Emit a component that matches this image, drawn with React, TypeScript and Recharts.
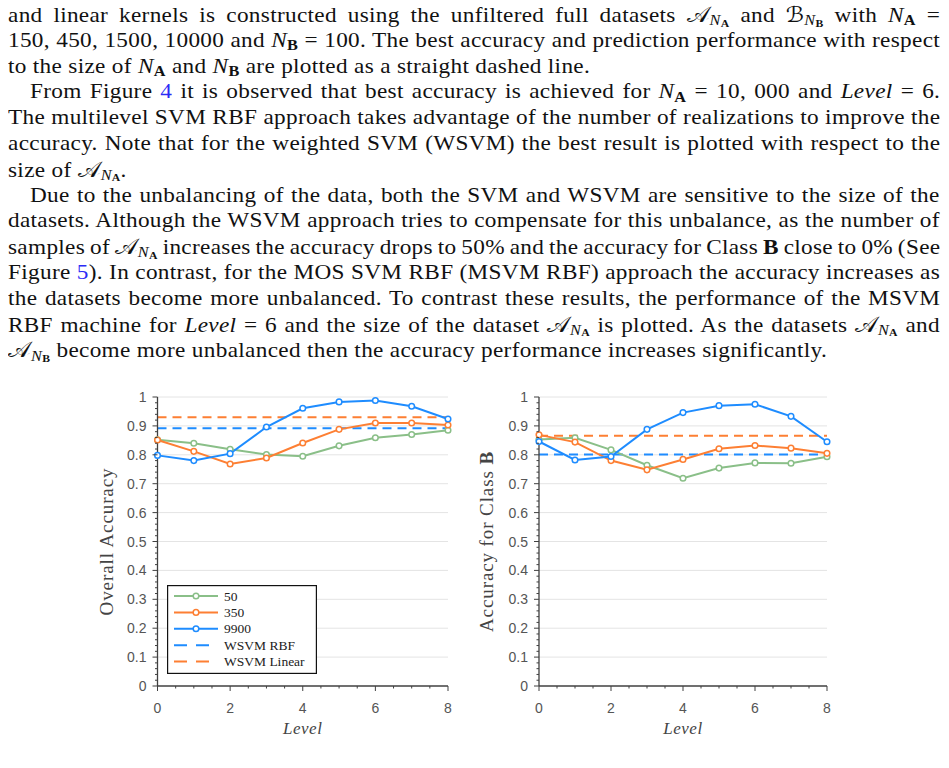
import React, { useLayoutEffect, useRef, useState } from 'react';
import { LineChart, Line, XAxis, YAxis, ReferenceLine } from 'recharts';

// Levels on the horizontal axis
const LEVELS = [0, 1, 2, 3, 4, 5, 6, 7, 8];

// Overall accuracy per level for each size of the A dataset
const OVERALL_50 = [0.852, 0.84, 0.819, 0.801, 0.795, 0.831, 0.859, 0.87, 0.885];
const OVERALL_350 = [0.851, 0.812, 0.768, 0.789, 0.841, 0.888, 0.91, 0.91, 0.903];
const OVERALL_9900 = [0.798, 0.78, 0.804, 0.896, 0.961, 0.983, 0.988, 0.968, 0.924];
const OVERALL_WSVM_RBF = 0.892;
const OVERALL_WSVM_LINEAR = 0.93;

// Accuracy for class B per level
const CLASSB_50 = [0.853, 0.859, 0.817, 0.764, 0.719, 0.754, 0.772, 0.771, 0.793];
const CLASSB_350 = [0.869, 0.844, 0.78, 0.748, 0.784, 0.821, 0.832, 0.823, 0.805];
const CLASSB_9900 = [0.846, 0.782, 0.794, 0.888, 0.946, 0.97, 0.975, 0.933, 0.845];
const CLASSB_WSVM_RBF = 0.801;
const CLASSB_WSVM_LINEAR = 0.866;

// Axis ticks: labelled majors plus unlabelled minors
const Y_GRID = [0.1, 0.2, 0.3, 0.4, 0.5, 0.6, 0.7, 0.8, 0.9, 1];
const Y_TICKS = Array.from({ length: 51 }, (_, i) => i / 50);
const X_TICKS = Array.from({ length: 17 }, (_, i) => i / 2);

const LEGEND_LABELS = ['50', '350', '9900', 'WSVM RBF', 'WSVM Linear'];

const GREEN = '#8abf88';
const ORANGE = '#fd7f33';
const BLUE = '#1e8cff';
const AXIS = '#404040';
const TICK_TEXT = '#555555';
const GRID = '#e4e4e4';
const SERIF = "'Liberation Serif', 'DejaVu Serif', serif";
const SANS = "'Liberation Sans', Arial, sans-serif";

const buildRows = (s50: number[], s350: number[], s9900: number[], rbf: number, lin: number) =>
  LEVELS.map((level, i) => ({ level, s50: s50[i], s350: s350[i], s9900: s9900[i], rbf, lin }));

const yTick = (props: any) => {
  const { x, y, payload } = props;
  const v = payload.value as number;
  const major = Math.round(v * 50) % 5 === 0;
  return (
    <g>
      <line x1={x} x2={x - (major ? 5 : 2.5)} y1={y} y2={y} stroke={AXIS} strokeWidth={1} />
      {major && (
        <text x={x - 11} y={y + 5} textAnchor="end" fill={TICK_TEXT} fontSize={14} fontFamily={SANS}>
          {String(Math.round(v * 10) / 10)}
        </text>
      )}
    </g>
  );
};

const xTick = (props: any) => {
  const { x, y, payload } = props;
  const v = payload.value as number;
  const major = Math.round(v * 2) % 4 === 0;
  return (
    <g>
      <line x1={x} x2={x} y1={y} y2={y + (major ? 5 : 2.5)} stroke={AXIS} strokeWidth={1} />
      {major && (
        <text x={x} y={y + 27} textAnchor="middle" fill={TICK_TEXT} fontSize={14} fontFamily={SANS}>
          {String(v)}
        </text>
      )}
    </g>
  );
};

// Boxed legend drawn in the lower-left of the overall accuracy panel
function SeriesLegend() {
  const colors = [GREEN, ORANGE, BLUE, BLUE, ORANGE];
  return (
    <svg width={150} height={89} style={{ position: 'absolute', left: 167, top: 585, display: 'block' }}>
      <rect x={0.6} y={0.6} width={148.8} height={87.8} fill="#ffffff" stroke="#111" strokeWidth={1.2} />
      {LEGEND_LABELS.map((label, i) => {
        const cy = 11 + i * 16.4;
        const dashed = i >= 3;
        return (
          <g key={label}>
            <line
              x1={7}
              x2={51}
              y1={cy}
              y2={cy}
              stroke={colors[i]}
              strokeWidth={2}
              strokeDasharray={dashed ? '13 9' : undefined}
            />
            {!dashed && <circle cx={29} cy={cy} r={2.8} fill="#fff" stroke={colors[i]} strokeWidth={1.5} />}
            <text x={57} y={cy + 4.5} fontSize={13.5} fontFamily={SERIF} fill="#222">
              {label}
            </text>
          </g>
        );
      })}
    </svg>
  );
}

type ChartProps = {
  left: number;
  width: number;
  axisWidth: number;
  rows: ReturnType<typeof buildRows>;
  yTitle: React.ReactNode;
};

function AccuracyChart({ left, width, axisWidth, rows, yTitle }: ChartProps) {
  const dotStyle = (color: string) => ({ r: 2.8, fill: '#ffffff', stroke: color, strokeWidth: 1.5 });
  return (
    <div style={{ position: 'absolute', left, top: 380 }}>
      <LineChart width={width} height={366} data={rows} margin={{ top: 17, right: 7, left: 0, bottom: 0 }}>
        <XAxis
          dataKey="level"
          type="number"
          domain={[0, 8]}
          ticks={X_TICKS}
          interval={0}
          tickSize={0}
          tickMargin={0}
          height={60}
          axisLine={{ stroke: AXIS, strokeWidth: 1.3 }}
          tickLine={false}
          tick={xTick}
          label={(p: any) => {
            const vb = p.viewBox;
            return (
              <text
                x={vb.x + vb.width / 2}
                y={vb.y + 48}
                textAnchor="middle"
                fontFamily={SERIF}
                fontStyle="italic"
                fontSize={17}
                letterSpacing={0.5}
                fill="#444"
              >
                Level
              </text>
            );
          }}
        />
        <YAxis
          type="number"
          domain={[0, 1]}
          ticks={Y_TICKS}
          interval={0}
          width={axisWidth}
          tickSize={0}
          tickMargin={0}
          axisLine={{ stroke: AXIS, strokeWidth: 1.3 }}
          tickLine={false}
          tick={yTick}
          label={(p: any) => {
            const vb = p.viewBox;
            const cx = 53;
            const cy = vb.y + vb.height / 2;
            return (
              <text
                x={cx}
                y={cy}
                transform={`rotate(-90 ${cx} ${cy})`}
                textAnchor="middle"
                fontFamily={SERIF}
                fontSize={19}
                letterSpacing={0.9}
                fill="#444"
              >
                {yTitle}
              </text>
            );
          }}
        />
        {Y_GRID.map((g) => (
          <ReferenceLine key={g} y={g} stroke={GRID} strokeWidth={1} />
        ))}
        <Line dataKey="rbf" stroke={BLUE} strokeWidth={2} strokeDasharray="9 6" dot={false} isAnimationActive={false} />
        <Line dataKey="lin" stroke={ORANGE} strokeWidth={2} strokeDasharray="9 6" dot={false} isAnimationActive={false} />
        <Line dataKey="s50" stroke={GREEN} strokeWidth={2} dot={dotStyle(GREEN)} isAnimationActive={false} />
        <Line dataKey="s350" stroke={ORANGE} strokeWidth={2} dot={dotStyle(ORANGE)} isAnimationActive={false} />
        <Line dataKey="s9900" stroke={BLUE} strokeWidth={2} dot={dotStyle(BLUE)} isAnimationActive={false} />
      </LineChart>
    </div>
  );
}

// Subscript helpers for the inline math
const Sub = ({ children }: { children: React.ReactNode }) => (
  <span
    style={{
      fontSize: '0.7em',
      position: 'relative',
      top: '0.22em',
      fontWeight: 700,
      fontStyle: 'normal',
      lineHeight: 1,
    }}
  >
    {children}
  </span>
);
const N = ({ s }: { s: string }) => (
  <>
    <i>N</i>
    <Sub>{s}</Sub>
  </>
);
const Scr = ({ c, s }: { c: string; s: string }) => (
  <>
    <span style={{ fontFamily: "'DejaVu Sans', serif" }}>{c}</span>
    <span style={{ fontSize: '0.7em', position: 'relative', top: '0.22em', lineHeight: 1 }}>
      <i>N</i>
      <span style={{ fontSize: '0.72em', position: 'relative', top: '0.12em', fontWeight: 700 }}>{s}</span>
    </span>
  </>
);
const Ref = ({ n }: { n: string }) => <span style={{ color: '#2b2bf5' }}>{n}</span>;

const LINES: { full: boolean; indent?: boolean; content: React.ReactNode }[] = [
  {
    full: true,
    content: (
      <>
        and linear kernels is constructed using the unfiltered full datasets <Scr c="𝒜" s="A" /> and{' '}
        <Scr c="ℬ" s="B" /> with <N s="A" /> =
      </>
    ),
  },
  {
    full: true,
    content: (
      <>
        150, 450, 1500, 10000 and <N s="B" /> = 100. The best accuracy and prediction performance with respect
      </>
    ),
  },
  {
    full: false,
    content: (
      <>
        to the size of <N s="A" /> and <N s="B" /> are plotted as a straight dashed line.
      </>
    ),
  },
  {
    full: true,
    indent: true,
    content: (
      <>
        From Figure <Ref n="4" /> it is observed that best accuracy is achieved for <N s="A" /> = 10, 000 and{' '}
        <i>Level</i> = 6.
      </>
    ),
  },
  { full: true, content: <>The multilevel SVM RBF approach takes advantage of the number of realizations to improve the</> },
  { full: true, content: <>accuracy. Note that for the weighted SVM (WSVM) the best result is plotted with respect to the</> },
  {
    full: false,
    content: (
      <>
        size of <Scr c="𝒜" s="A" />.
      </>
    ),
  },
  {
    full: true,
    indent: true,
    content: <>Due to the unbalancing of the data, both the SVM and WSVM are sensitive to the size of the</>,
  },
  { full: true, content: <>datasets. Although the WSVM approach tries to compensate for this unbalance, as the number of</> },
  {
    full: true,
    content: (
      <>
        samples of <Scr c="𝒜" s="A" /> increases the accuracy drops to 50% and the accuracy for Class <b>B</b> close to
        0% (See
      </>
    ),
  },
  {
    full: true,
    content: (
      <>
        Figure <Ref n="5" />
        ). In contrast, for the MOS SVM RBF (MSVM RBF) approach the accuracy increases as
      </>
    ),
  },
  { full: true, content: <>the datasets become more unbalanced. To contrast these results, the performance of the MSVM</> },
  {
    full: true,
    content: (
      <>
        RBF machine for <i>Level</i> = 6 and the size of the dataset <Scr c="𝒜" s="A" /> is plotted. As the datasets{' '}
        <Scr c="𝒜" s="A" /> and
      </>
    ),
  },
  {
    full: false,
    content: (
      <>
        <Scr c="𝒜" s="B" /> become more unbalanced then the accuracy performance increases significantly.
      </>
    ),
  },
];

const TEXT_STRETCH = 1.08;
const TEXT_WIDTH = 932;
const INDENT = 22;

// Body text: each full line gets its own word spacing so it spans the text width exactly
function BodyText() {
  const refs = useRef<(HTMLSpanElement | null)[]>([]);
  const [spacing, setSpacing] = useState<number[]>(() => LINES.map(() => 0));
  useLayoutEffect(() => {
    const next = LINES.map((l, i) => {
      const el = refs.current[i];
      if (!el || !l.full) return 0;
      const natural = el.offsetWidth;
      const target = (TEXT_WIDTH - (l.indent ? INDENT : 0)) / TEXT_STRETCH;
      const spaces = (el.textContent || '').split(' ').length - 1;
      return spaces > 0 ? (target - natural) / spaces : 0;
    });
    setSpacing(next);
  }, []);
  return (
    <div
      style={{
        position: 'absolute',
        left: 8,
        top: 2,
        width: TEXT_WIDTH / TEXT_STRETCH,
        transform: `scaleX(${TEXT_STRETCH})`,
        transformOrigin: '0 0',
        fontFamily: SERIF,
        fontSize: 21.5,
        letterSpacing: 0.3,
        color: '#111',
      }}
    >
      {LINES.map((l, i) => (
        <div
          key={i}
          style={{
            height: 25.8,
            lineHeight: '25.8px',
            whiteSpace: 'nowrap',
            paddingLeft: l.indent ? INDENT / TEXT_STRETCH : 0,
          }}
        >
          <span
            ref={(el) => {
              refs.current[i] = el;
            }}
            style={{ display: 'inline-block', wordSpacing: spacing[i] }}
          >
            {l.content}
          </span>
        </div>
      ))}
    </div>
  );
}

export default function App() {
  const overallRows = buildRows(OVERALL_50, OVERALL_350, OVERALL_9900, OVERALL_WSVM_RBF, OVERALL_WSVM_LINEAR);
  const classBRows = buildRows(CLASSB_50, CLASSB_350, CLASSB_9900, CLASSB_WSVM_RBF, CLASSB_WSVM_LINEAR);
  return (
    <div style={{ position: 'absolute', left: 0, top: 0, width: 949, height: 768, background: '#fff', overflow: 'hidden' }}>
      <BodyText />
      <AccuracyChart left={60} width={395} axisWidth={97.5} rows={overallRows} yTitle="Overall Accuracy" />
      <AccuracyChart
        left={440}
        width={394}
        axisWidth={99}
        rows={classBRows}
        yTitle={
          <>
            Accuracy for Class <tspan fontWeight="bold">B</tspan>
          </>
        }
      />
      <SeriesLegend />
    </div>
  );
}
